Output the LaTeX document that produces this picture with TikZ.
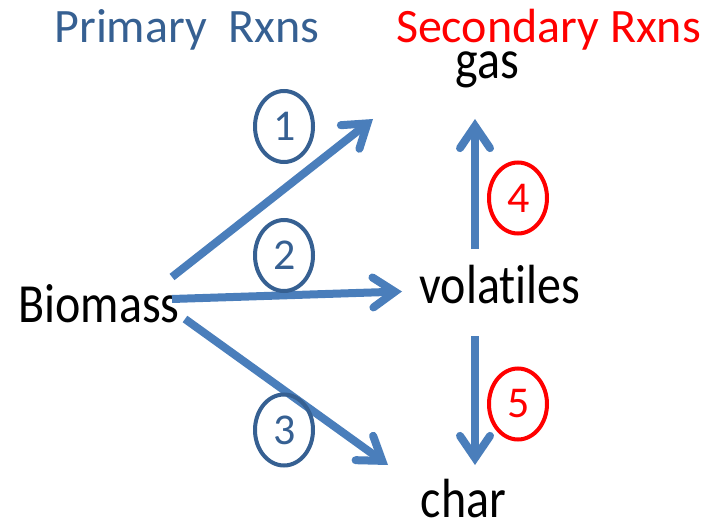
\documentclass[tikz,border=0pt]{standalone}
\usepackage{fontspec}
\setmainfont[Ligatures=NoCommon]{Carlito}
\usetikzlibrary{arrows.meta,shapes.geometric}

\definecolor{flowblue}{HTML}{4A7EBB}
\definecolor{tagblue}{HTML}{366092}
\definecolor{tagred}{HTML}{FF0000}

% slightly tall lettering for the species names
\newcommand\tallword[1]{\scalebox{1}[1.15]{#1}}
\newcommand\tagnum[1]{\raisebox{-2.5pt}{\hspace{2pt}#1}}

\tikzset{
  heading/.style={anchor=base, inner sep=0pt, font=\fontsize{48pt}{58pt}\selectfont},
  word/.style={anchor=base, inner sep=0pt, font=\fontsize{48pt}{58pt}\selectfont},
  flow/.style={draw=flowblue, line width=8pt, line cap=butt,
    -{Straight Barb[length=22pt,width=30pt,line cap=round,line join=miter]}},
  tag/.style={ellipse, draw, line width=4pt, inner sep=0pt,
    minimum width=58pt, minimum height=71pt,
    font=\fontsize{44pt}{52pt}\selectfont},
  primtag/.style={tag, draw=tagblue, text=tagblue},
  sectag/.style={tag, draw=tagred, text=tagred},
}

\begin{document}
\begin{tikzpicture}[x=1pt, y=-1pt]
  \useasboundingbox (0,0) rectangle (704,524);

  % headings
  \node[heading, text=tagblue] (prim) at (187,42.7) {Primary~~Rxns};
  \node[heading, text=tagred]  (sec)  at (548.5,42.7) {Secondary Rxns};

  % species
  \node[word] (bio)  at (99,322)    {\tallword{Biomass}};
  \node[word] (gas)  at (487,79)    {\tallword{gas}};
  \node[word] (vol)  at (500,303)   {\tallword{volatiles}};
  \node[word] (char) at (463.5,517) {\tallword{char}};

  % arrow end points
  \coordinate (a1s) at (172,277);  \coordinate (a1e) at (373,119);
  \coordinate (a2s) at (172,299);  \coordinate (a2e) at (402,291.5);
  \coordinate (a3s) at (185,319);  \coordinate (a3e) at (388,465);
  \coordinate (a4s) at (475,249);  \coordinate (a4e) at (475,119);
  \coordinate (a5s) at (475,336);  \coordinate (a5e) at (475,465);

  % primary reactions
  \draw[flow] (a1s) -- (a1e);
  \draw[flow] (a2s) -- (a2e);
  \draw[flow] (a3s) -- (a3e);
  % secondary reactions
  \draw[flow] (a4s) -- (a4e);
  \draw[flow] (a5s) -- (a5e);

  % reaction numbers
  \node[primtag] (r1) at (284,126.5) {\tagnum{1}};
  \node[primtag] (r2) at (284,255.5) {\tagnum{2}};
  \node[primtag] (r3) at (284,430)   {\tagnum{3}};
  \node[sectag]  (r4) at (518,198)   {\tagnum{4}};
  \node[sectag]  (r5) at (518,404)   {\tagnum{5}};
\end{tikzpicture}
\end{document}
